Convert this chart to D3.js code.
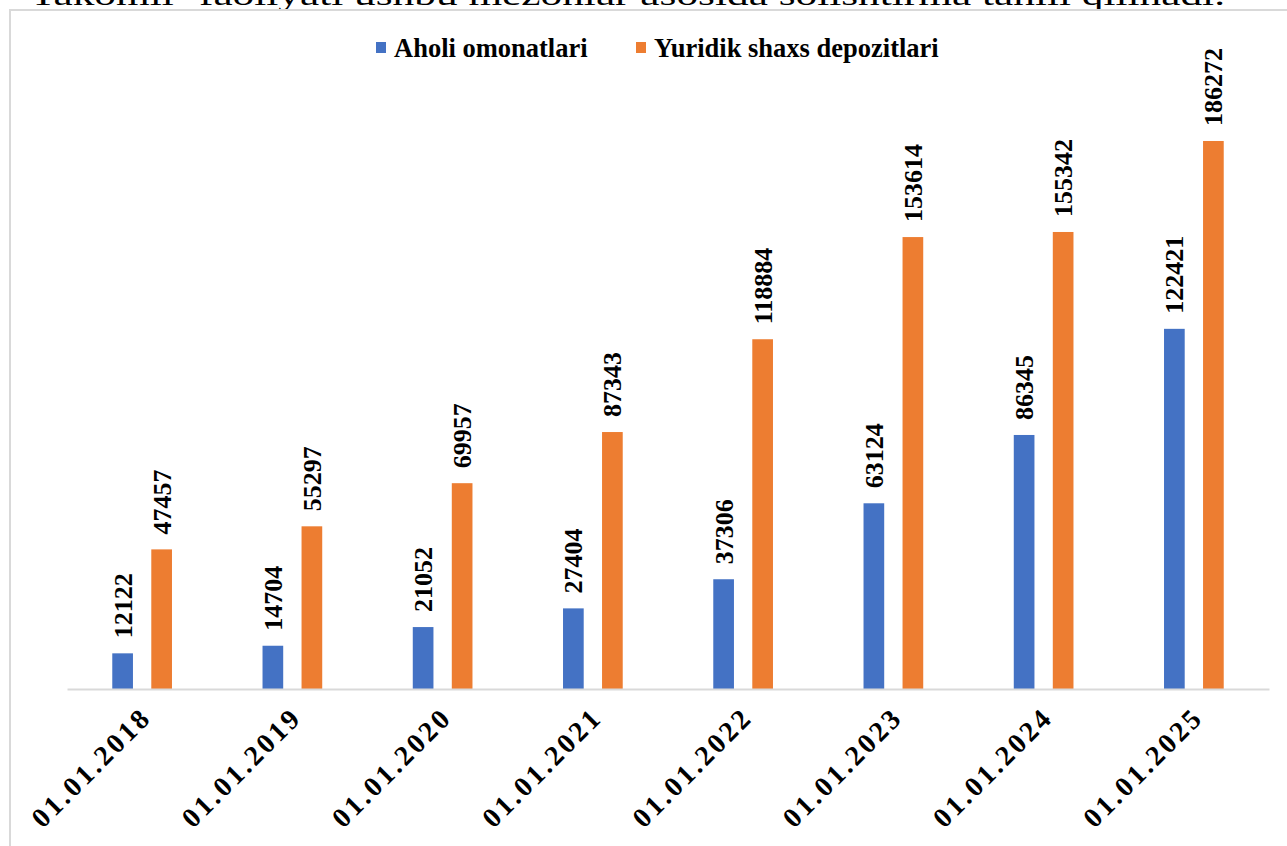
<!DOCTYPE html>
<html>
<head>
<meta charset="utf-8">
<script src="https://cdn.jsdelivr.net/npm/d3@7"></script>
<style>
  html, body { margin: 0; padding: 0; background: #fff; overflow: hidden; }
  svg { display: block; }
  svg text { font-family: "Liberation Serif", "DejaVu Serif", serif; }
</style>
</head>
<body>
<div id="chart"></div>
<script>
const categories = ["01.01.2018", "01.01.2019", "01.01.2020", "01.01.2021",
  "01.01.2022", "01.01.2023", "01.01.2024", "01.01.2025"];
const seriesNames = ["Aholi omonatlari", "Yuridik shaxs depozitlari"];
const aholi = [12122, 14704, 21052, 27404, 37306, 63124, 86345, 122421];
const yuridik = [47457, 55297, 69957, 87343, 118884, 153614, 155342, 186272];
const colors = ["#4472C4", "#ED7D31"];

const width = 1287;
const height = 846;
const baseY = 689;

const svg = d3.select("#chart")
  .append("svg")
  .attr("width", width)
  .attr("height", height);

// cut-off line of text from the page above the chart
svg.append("text")
  .attr("x", 30)
  .attr("y", 5)
  .attr("font-size", 30)
  .attr("textLength", 1195)
  .attr("lengthAdjust", "spacingAndGlyphs")
  .text("Takomil- faoliyati ushbu mezonlar asosida solishtirma tahlil qilinadi.");

// chart frame
svg.append("rect")
  .attr("x", 10)
  .attr("y", 10)
  .attr("width", 1300)
  .attr("height", 860)
  .attr("fill", "#fff")
  .attr("stroke", "#D9D9D9")
  .attr("stroke-width", 2);

const x0 = d3.scaleBand()
  .domain(categories)
  .range([67, 1269])
  .padding(0);

const x1 = d3.scaleBand()
  .domain(seriesNames)
  .range([0, 59.7])
  .paddingInner(0.47);

const y = d3.scaleLinear()
  .domain([0, 200000])
  .range([baseY, baseY - 588.4]);

const rows = categories.map(function(c, i) {
  return { cat: c, values: [aholi[i], yuridik[i]] };
});

const group = svg.selectAll(".grp")
  .data(rows)
  .enter()
  .append("g")
  .attr("class", "grp")
  .attr("transform", function(d) {
    return "translate(" + (x0(d.cat) + x0.bandwidth() / 2 - 29.85) + ",0)";
  });

const bar = group.selectAll(".bar")
  .data(function(d) {
    return d.values.map(function(v, j) { return { name: seriesNames[j], value: v, j: j }; });
  })
  .enter();

bar.append("rect")
  .attr("class", "bar")
  .attr("x", function(d) { return x1(d.name); })
  .attr("y", function(d) { return y(d.value); })
  .attr("width", x1.bandwidth())
  .attr("height", function(d) { return y(0) - y(d.value); })
  .attr("fill", function(d) { return colors[d.j]; });

bar.append("text")
  .attr("transform", function(d) {
    return "translate(" + (x1(d.name) + x1.bandwidth() / 2 + 9) + "," + (y(d.value) - 15) + ") rotate(-90)";
  })
  .attr("font-size", 26)
  .attr("font-weight", "bold")
  .attr("fill", "#000")
  .text(function(d) { return d.value; });

// category axis
const xAxis = svg.append("g")
  .attr("transform", "translate(0," + baseY + ")")
  .call(d3.axisBottom(x0).tickSize(0).tickPadding(0));

xAxis.select(".domain")
  .attr("stroke", "#D9D9D9")
  .attr("stroke-width", 2);

xAxis.selectAll(".tick text")
  .attr("font-size", 28)
  .attr("font-weight", "bold")
  .attr("letter-spacing", 3)
  .attr("fill", "#000")
  .attr("text-anchor", "end")
  .attr("dy", 0)
  .attr("y", 0)
  .attr("transform", "translate(11,30) rotate(-45)");

// legend
const legend = svg.append("g");
const legendX = [376, 636];
seriesNames.forEach(function(name, i) {
  legend.append("rect")
    .attr("x", legendX[i])
    .attr("y", 42)
    .attr("width", 10)
    .attr("height", 11)
    .attr("fill", colors[i]);
  legend.append("text")
    .attr("x", legendX[i] + 18)
    .attr("y", 57)
    .attr("font-size", 26.5)
    .attr("font-weight", "bold")
    .attr("fill", "#000")
    .text(name);
});
</script>
</body>
</html>
